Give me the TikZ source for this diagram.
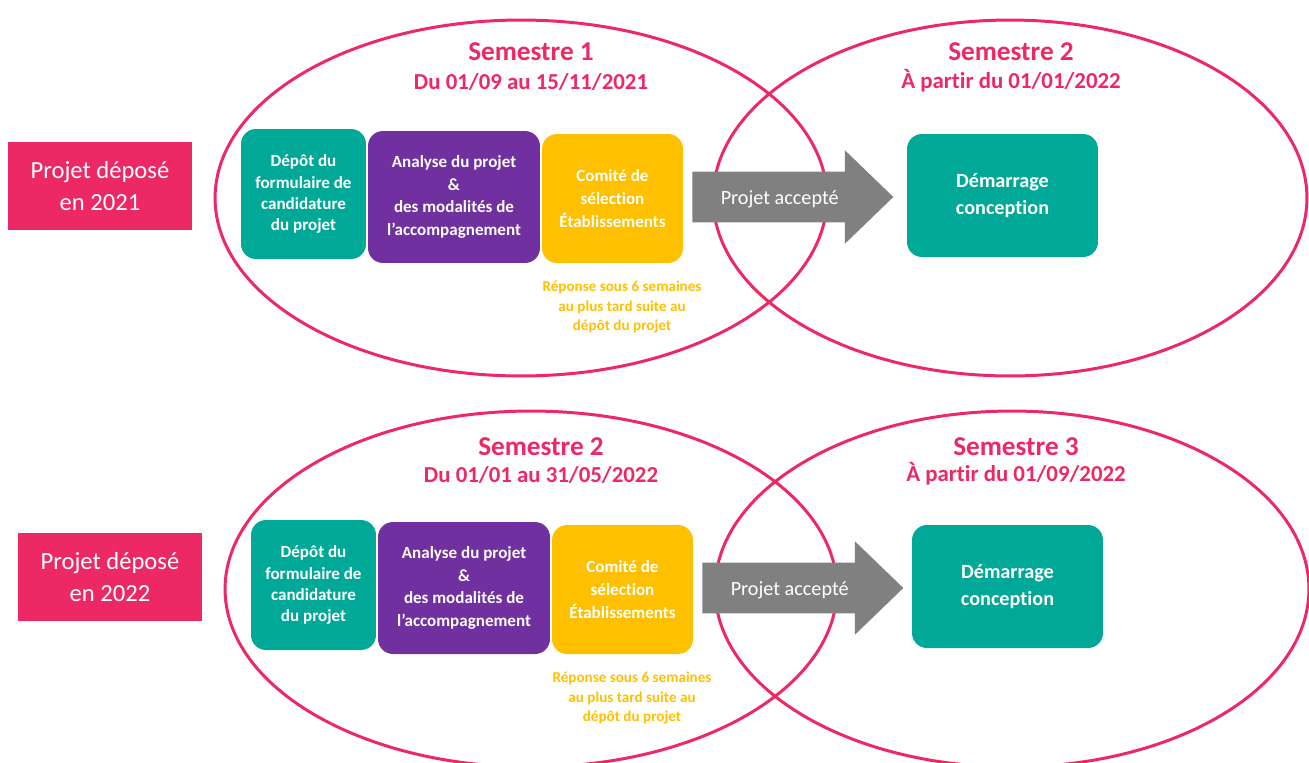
\documentclass[tikz,border=0pt]{standalone}
\usepackage{fontspec}
\setmainfont{Carlito}[Ligatures=NoCommon]
\usepackage{tikz}
\usetikzlibrary{shapes.arrows}
\usepackage{xcolor}
\definecolor{rose}{RGB}{236,41,100}
\definecolor{sarcelle}{RGB}{0,168,152}
\definecolor{violet}{RGB}{112,48,160}
\definecolor{jaune}{RGB}{255,192,0}
\definecolor{gris}{RGB}{128,128,128}
\tikzstyle{cercle}=[draw=rose, line width=1.7pt]
\tikzstyle{annee}=[fill=rose, text=white, align=center, inner sep=0pt, minimum width=3.68cm, minimum height=1.76cm, font=\fontsize{14}{18.7}\selectfont]
\tikzstyle{etape}=[rounded corners=0.3cm, text=white, align=center, inner sep=0pt, font=\bfseries\fontsize{9.7}{13}\selectfont]
\tikzstyle{semestre}=[text=rose, font=\bfseries\fontsize{15.5}{18}\selectfont]
\tikzstyle{periode}=[text=rose, font=\bfseries\fontsize{13}{15}\selectfont]
\tikzstyle{reponse}=[text=jaune, align=center, font=\bfseries\fontsize{8.6}{11}\selectfont]
\tikzstyle{fleche}=[single arrow, fill=gris, text=white, minimum height=4.02cm, single arrow head extend=0.43cm, single arrow tip angle=88, single arrow head indent=0pt, inner xsep=4pt, inner ysep=9.5pt, text height=9pt, text depth=0.5pt, font=\fontsize{11.5}{13}\selectfont]

\begin{document}
\begin{tikzpicture}[x=0.02cm,y=-0.02cm]
\useasboundingbox (0,0) rectangle (1309,762);
\foreach \r/\dx/\dy/\an/\sa/\pa/\sb/\pb in {%
	1/0/0/2021/1/{Du 01/09 au 15/11/2021}/2/{À partir du 01/01/2022},%
	2/10/391/2022/2/{Du 01/01 au 31/05/2022}/3/{À partir du 01/09/2022}} {
	% les deux semestres
	\draw[cercle] (521+\dx,198+\dy) ellipse [x radius=6.12cm, y radius=3.56cm];
	\draw[cercle] (1010+\dx/5,198+\dy) ellipse [x radius=5.94cm, y radius=3.56cm];
	\node[semestre] (sema\r) at (531+\dx,52+\dy+\dx/3) {Semestre \sa};
	\node[periode] (pera\r) at (531+\dx,82+\dy+\dx/5) {\pa};
	\node[semestre] (semb\r) at (1011+\dx/2,52+\dy+\dx/3) {Semestre \sb};
	\node[periode] (perb\r) at (1011+\dx/2,81+\dy+\dx/5) {\pb};
	\node[annee] (depose\r) at (100+\dx,186+\dy) {Projet déposé\\en \an};
	% les etapes
	\node[etape, fill=sarcelle, minimum width=2.5cm, minimum height=2.6cm, font=\bfseries\fontsize{9.7}{12}\selectfont] (dep\r) at (303.5+\dx,194+\dy) {Dépôt du\\formulaire de\\candidature\\du projet};
	\node[etape, fill=violet, minimum width=3.44cm, minimum height=2.64cm] (ana\r) at (454+\dx,197+\dy) {Analyse du projet\\\&\\des modalités de\\l’accompagnement};
	\node[etape, fill=jaune, minimum width=2.82cm, minimum height=2.58cm] (com\r) at (612.5+\dx,198.5+\dy) {Comité de\\sélection\\Établissements};
	\node[reponse] (rep\r) at (622+\dx,307+\dy) {Réponse sous 6 semaines\\au plus tard suite au\\dépôt du projet};
	\node[fleche, anchor=tail] (acc\r) at (692+\dx,197+\dy) {Projet accepté};
	\node[etape, fill=sarcelle, minimum width=3.82cm, minimum height=2.46cm, font=\bfseries\fontsize{11.5}{15.3}\selectfont] (dem\r) at (1002.5+\dx/2,195.5+\dy) {Démarrage\\conception};
}
\end{tikzpicture}
\end{document}
